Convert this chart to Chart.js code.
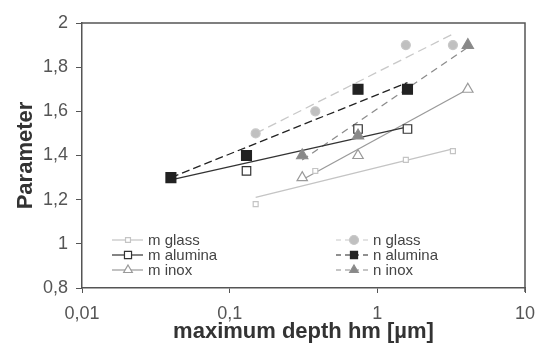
<!DOCTYPE html>
<html>
<head>
<meta charset="utf-8">
<script src="https://cdn.jsdelivr.net/npm/chart.js@4"></script>
<style>
  html, body { margin: 0; padding: 0; background: #fff; }
  #chart { display: block; }
</style>
</head>
<body>
<canvas id="chart" width="536" height="345"></canvas>
<script>
// measured points (x = maximum depth in µm)
const glassX = [0.15, 0.38, 1.56, 3.25];
const aluminaX = [0.04, 0.13, 0.74, 1.6];
const inoxX = [0.31, 0.74, 4.1];

const mGlass = [1.18, 1.33, 1.38, 1.42];
const mAlumina = [1.30, 1.33, 1.52, 1.52];
const mInox = [1.30, 1.40, 1.70];
const nGlass = [1.50, 1.60, 1.90, 1.90];
const nAlumina = [1.30, 1.40, 1.70, 1.70];
const nInox = [1.40, 1.49, 1.90];

// fitted lines, ends
const glassFitX = [0.15, 3.25];
const aluminaFitX = [0.04, 1.6];
const inoxFitX = [0.31, 4.1];
const mGlassFit = [1.21, 1.43];
const mAluminaFit = [1.29, 1.53];
const mInoxFit = [1.29, 1.70];
const nGlassFit = [1.50, 1.95];
const nAluminaFit = [1.30, 1.73];
const nInoxFit = [1.38, 1.89];

const seriesNames = ['m glass', 'm alumina', 'm inox', 'n glass', 'n alumina', 'n inox'];
const xTicks = [0.01, 0.1, 1, 10];
const yTicks = [0.8, 1, 1.2, 1.4, 1.6, 1.8, 2];

function pts(xs, ys) {
    return xs.map((x, i) => ({ x: x, y: ys[i] }));
}

const styles = [
    { color: '#c4c4c4', fill: '#fff', shape: 'rect', r: 3.5, dash: [] },
    { color: '#333', fill: '#fff', shape: 'rect', r: 6, dash: [] },
    { color: '#9a9a9a', fill: '#fff', shape: 'triangle', r: 6, dash: [] },
    { color: '#c8c8c8', fill: '#c0c0c0', shape: 'circle', r: 4.5, dash: [9, 5] },
    { color: '#222', fill: '#222', shape: 'rect', r: 7, dash: [8, 4] },
    { color: '#8c8c8c', fill: '#888', shape: 'triangle', r: 6.5, dash: [7, 5] }
];

const pointSets = [
    pts(glassX, mGlass), pts(aluminaX, mAlumina), pts(inoxX, mInox),
    pts(glassX, nGlass), pts(aluminaX, nAlumina), pts(inoxX, nInox)
];
const fitSets = [
    pts(glassFitX, mGlassFit), pts(aluminaFitX, mAluminaFit), pts(inoxFitX, mInoxFit),
    pts(glassFitX, nGlassFit), pts(aluminaFitX, nAluminaFit), pts(inoxFitX, nInoxFit)
];

// chart.js paints the first dataset last, so n markers go first, fit lines last
let datasets = [];
[3, 4, 5, 0, 1, 2].forEach((i) => {
    datasets.push({
        type: 'scatter', label: seriesNames[i], data: pointSets[i], showLine: false,
        pointStyle: styles[i].shape, pointRadius: styles[i].r,
        pointBackgroundColor: styles[i].fill, pointBorderColor: styles[i].color,
        pointBorderWidth: 1.2
    });
});
fitSets.forEach((d, i) => {
    datasets.push({
        type: 'line', label: seriesNames[i] + ' fit', data: d,
        borderColor: styles[i].color, borderWidth: 1.3, borderDash: styles[i].dash,
        pointRadius: 0, fill: false
    });
});

function drawMarker(ctx, s, x, y) {
    let r = s.r;
    ctx.beginPath();
    if (s.shape == 'rect') {
        let h = r * Math.SQRT1_2;
        ctx.rect(x - h, y - h, 2 * h, 2 * h);
    } else if (s.shape == 'triangle') {
        ctx.moveTo(x, y - r);
        ctx.lineTo(x + r * 0.866, y + r * 0.5);
        ctx.lineTo(x - r * 0.866, y + r * 0.5);
        ctx.closePath();
    } else {
        ctx.arc(x, y, r, 0, Math.PI * 2);
    }
    ctx.fillStyle = s.fill;
    ctx.fill();
    ctx.lineWidth = 1.2;
    ctx.strokeStyle = s.color;
    ctx.stroke();
}

const frameAndLegend = {
    id: 'frameAndLegend',
    afterDraw(chart) {
        const ctx = chart.ctx;
        const a = chart.chartArea;
        ctx.save();
        ctx.strokeStyle = '#555';
        ctx.lineWidth = 1.5;
        ctx.beginPath();
        ctx.moveTo(a.left, a.top);
        ctx.lineTo(a.right, a.top);
        ctx.lineTo(a.right, a.bottom + 4);
        ctx.stroke();

        const cols = [{ x0: 112, x1: 143, mx: 128, tx: 148 }, { x0: 336, x1: 369, mx: 354, tx: 373 }];
        const rows = [240, 255, 270];
        ctx.font = '15px "Liberation Sans", Arial, sans-serif';
        ctx.textBaseline = 'middle';
        seriesNames.forEach((name, i) => {
            const c = cols[Math.floor(i / 3)], y = rows[i % 3], s = styles[i];
            ctx.strokeStyle = s.color;
            ctx.lineWidth = 1.2;
            ctx.setLineDash(s.dash.length ? [5, 4] : []);
            ctx.beginPath();
            ctx.moveTo(c.x0, y);
            ctx.lineTo(c.x1, y);
            ctx.stroke();
            ctx.setLineDash([]);
            drawMarker(ctx, { ...s, r: Math.min(s.r, 5) }, c.mx, y);
            ctx.fillStyle = '#444';
            ctx.fillText(name, c.tx, y + 1);
        });
        ctx.restore();
    }
};

new Chart(document.getElementById('chart'), {
    data: { datasets },
    options: {
        responsive: false,
        animation: false,
        devicePixelRatio: 1,
        layout: { padding: { top: 23, right: 11, left: 0, bottom: 0 } },
        plugins: { legend: { display: false }, tooltip: { enabled: false } },
        scales: {
            x: {
                type: 'logarithmic', min: 0.01, max: 10,
                afterBuildTicks: (s) => { s.ticks = xTicks.map(v => ({ value: v })); },
                afterFit: (s) => { s.height = 57; s.paddingLeft = 0; s.paddingRight = 0; },
                border: { display: true, color: '#555', width: 1.5 },
                grid: { drawOnChartArea: false, drawTicks: true, tickLength: 5, color: '#555' },
                ticks: {
                    color: '#555', padding: 10, maxRotation: 0, autoSkip: false,
                    font: { family: '"Liberation Sans", Arial, sans-serif', size: 18 },
                    callback: (v) => String(v).replace('.', ',')
                },
                title: {
                    display: true, text: 'maximum depth hm [µm]', color: '#333',
                    font: { family: '"Liberation Sans", Arial, sans-serif', size: 22, weight: 'bold' },
                    padding: { top: 0, bottom: 0 }
                }
            },
            y: {
                type: 'linear', min: 0.8, max: 2,
                afterBuildTicks: (s) => { s.ticks = yTicks.map(v => ({ value: v })); },
                afterFit: (s) => { s.width = 82; s.paddingTop = 0; s.paddingBottom = 0; },
                border: { display: true, color: '#555', width: 1.5 },
                grid: { drawOnChartArea: false, drawTicks: true, tickLength: 6, color: '#555' },
                ticks: {
                    color: '#555', padding: 8,
                    font: { family: '"Liberation Sans", Arial, sans-serif', size: 18 },
                    callback: (v) => String(Math.round(v * 10) / 10).replace('.', ',')
                },
                title: {
                    display: true, text: 'Parameter', color: '#333',
                    font: { family: '"Liberation Sans", Arial, sans-serif', size: 22, weight: 'bold' },
                    padding: { top: 13, bottom: 0 }
                }
            }
        }
    },
    plugins: [frameAndLegend]
});
</script>
</body>
</html>
